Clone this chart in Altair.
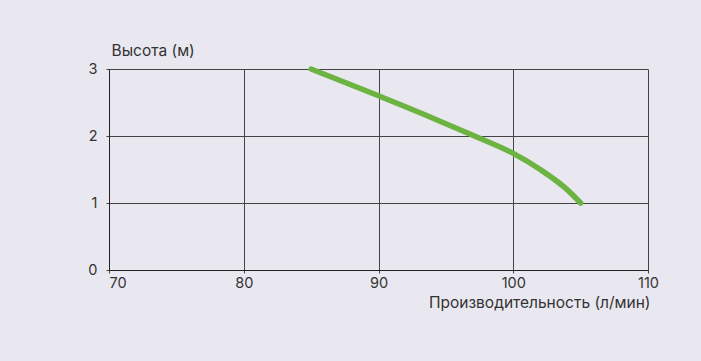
import altair as alt
import pandas as pd

flow = [85.0, 90.0, 94.0, 97.0, 100.0, 102.0, 104.0, 105.0]
head = [3.0, 2.6, 2.27, 2.01, 1.74, 1.5, 1.2, 1.0]
x_ticks = [70, 80, 90, 100, 110]
y_ticks = [0, 1, 2, 3]

df = pd.DataFrame({"flow": flow, "head": head})

FONT = "Inter"
TXT = "#333333"

line = alt.Chart(df).mark_line(
    color="#6cb342", strokeWidth=5.5, interpolate="monotone", strokeCap="round", clip=False
).encode(
    x=alt.X("flow:Q", scale=alt.Scale(domain=[70, 110], nice=False, zero=False),
            axis=alt.Axis(values=x_ticks, title="Производительность (л/мин)",
                          titleX=541, titleY=32, titleAlign="right", titleBaseline="middle",
                          titleAngle=0,
                          labelAlign={"condition": {"test": "datum.value == 70", "value": "left"},
                                      "value": "center"},
                          labelPadding=3)),
    y=alt.Y("head:Q", scale=alt.Scale(domain=[0, 3], nice=False),
            axis=alt.Axis(values=y_ticks, title="Высота (м)", titleAngle=0,
                          titleX=2, titleY=-19, titleAlign="left", titleBaseline="middle",
                          labelPadding=9)),
)

chart = line.properties(
    width=539, height=201,
    padding={"left": 109, "top": 69, "right": 53, "bottom": 91},
    autosize=alt.AutoSizeParams(type="none"),
    background="#e9e8f0",
).configure_view(
    strokeWidth=0
).configure_axis(
    grid=True, gridColor="#444444", gridOpacity=1, gridWidth=1,
    domainColor="#222222", domainWidth=1,
    tickColor="#444444", tickSize=3,
    labelFont=FONT, labelFontSize=14.5, labelColor=TXT,
    titleFont=FONT, titleFontSize=15.5, titleColor=TXT, titleFontWeight="normal",
)

chart.save("out.html", embed_options={"renderer": "svg", "actions": False})
